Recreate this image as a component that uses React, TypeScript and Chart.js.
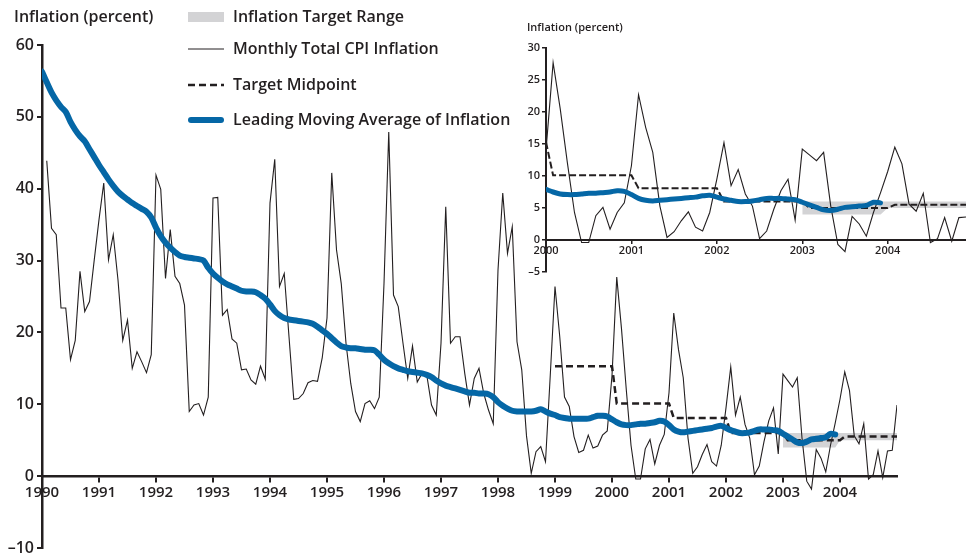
import React, { useEffect, useRef } from 'react';
import { Chart, registerables } from 'chart.js';

Chart.register(...registerables);

// ---------------- data ----------------
// x unit: months since January 1990 (0 = Jan 1990)
const yearLabels = ['1990', '1991', '1992', '1993', '1994', '1995', '1996', '1997', '1998', '1999', '2000', '2001', '2002', '2003', '2004'];
const yearTickMonths = [0, 12, 24, 36, 48, 60, 72, 84, 96, 108, 120, 132, 144, 156, 168];
const insetYearLabels = ['2000', '2001', '2002', '2003', '2004'];
const insetYearTickMonths = [120, 132, 144, 156, 168];

const legendLabels = ['Inflation Target Range', 'Monthly Total CPI Inflation', 'Target Midpoint', 'Leading Moving Average of Inflation'];
const axisTitle = 'Inflation (percent)';

// Monthly total CPI inflation, Feb 1990 (month 1) .. Jan 2005 (month 180)
const monthlyStart = 1;
const monthlyInflation = [
  43.9, 34.5, 33.6, 23.4, 23.4, 16.2, 18.9, 28.5, 22.9, 24.3, 30.1,
  35.7, 40.8, 30.1, 33.6, 27.3, 18.9, 21.7, 15.0, 17.3, 15.9, 14.4, 16.9,
  41.9, 39.9, 27.5, 34.3, 27.8, 26.8, 23.8, 9.0, 9.9, 10.1, 8.5, 11.0,
  38.7, 38.8, 22.4, 23.2, 19.1, 18.5, 14.8, 14.9, 13.4, 12.8, 15.3, 13.5,
  38.0, 44.1, 26.4, 28.2, 19.4, 10.7, 10.8, 11.5, 13.0, 13.3, 13.2, 16.5,
  22.0, 42.2, 31.5, 26.8, 18.5, 12.9, 9.0, 7.6, 10.1, 10.5, 9.4, 11.0,
  26.8, 47.9, 25.2, 23.6, 18.5, 13.6, 18.1, 13.1, 14.3, 14.1, 9.9, 8.5,
  18.5, 37.5, 18.5, 19.4, 19.4, 14.3, 9.9, 13.6, 15.0, 11.5, 9.2, 7.3,
  28.7, 39.4, 31.0, 34.7, 18.7, 14.8, 5.6, 0.4, 3.4, 4.1, 2.0, 14.0,
  26.4, 19.4, 11.0, 9.7, 5.5, 3.3, 3.6, 5.7, 3.9, 4.2, 5.7, 6.3,
  14.0, 27.7, 20.5, 12.1, 4.3, -0.4, -0.4, 3.8, 5.1, 1.7, 4.3, 5.8,
  11.6, 22.7, 17.6, 13.7, 5.3, 0.4, 1.3, 3.0, 4.4, 2.0, 1.4, 4.3,
  9.5, 15.2, 8.5, 11.0, 7.2, 5.3, 0.2, 1.4, 4.8, 7.7, 9.5, 3.1,
  14.2, 13.3, 12.4, 13.7, 5.3, -0.7, -1.8, 3.7, 2.5, 0.6, 4.3, 7.4,
  10.7, 14.5, 11.9, 5.6, 4.5, 7.3, -0.4, 0.2, 3.5, -0.2, 3.5, 3.6,
  9.9,
];

// Leading moving average, Jan 1990 (month 0) .. Dec 2003 (month 167)
const movingAverageStart = 0;
const movingAverage = [
  56.3, 54.8, 53.4, 52.3, 51.4, 50.7, 49.3, 48.2, 47.3, 46.6, 45.5, 44.4,
  43.3, 42.3, 41.3, 40.4, 39.6, 39.0, 38.5, 38.0, 37.6, 37.2, 36.8, 36.0,
  34.6, 33.4, 32.5, 31.8, 31.2, 30.7, 30.5, 30.4, 30.3, 30.2, 30.0, 29.0,
  28.2, 27.6, 27.1, 26.7, 26.4, 26.1, 25.8, 25.7, 25.7, 25.6, 25.2, 24.7,
  23.9, 23.0, 22.4, 22.0, 21.8, 21.7, 21.6, 21.5, 21.4, 21.2, 20.8, 20.3,
  19.8, 19.2, 18.6, 18.1, 17.9, 17.8, 17.8, 17.7, 17.6, 17.6, 17.5, 16.9,
  16.2, 15.7, 15.3, 15.0, 14.8, 14.6, 14.5, 14.4, 14.3, 14.1, 13.8, 13.3,
  12.9, 12.6, 12.4, 12.2, 12.0, 11.8, 11.6, 11.6, 11.5, 11.5, 11.4, 11.0,
  10.3, 9.8, 9.4, 9.1, 9.0, 9.0, 9.0, 9.0, 9.1, 9.3, 9.0, 8.7,
  8.5, 8.2, 8.1, 8.0, 8.0, 8.0, 8.0, 8.0, 8.2, 8.4, 8.4, 8.3,
  7.9, 7.5, 7.2, 7.1, 7.1, 7.2, 7.3, 7.3, 7.4, 7.5, 7.7, 7.6,
  7.1, 6.5, 6.2, 6.1, 6.2, 6.3, 6.4, 6.5, 6.6, 6.7, 6.9, 7.0,
  6.7, 6.4, 6.2, 6.0, 6.0, 6.1, 6.3, 6.5, 6.5, 6.5, 6.4, 6.3,
  5.9, 5.5, 5.1, 4.7, 4.6, 4.8, 5.1, 5.2, 5.3, 5.4, 5.9, 5.8,
];

// Target midpoint, Jan 1999 (month 108) .. Jan 2005 (month 180)
const targetMidStart = 108;
const targetMidpoint = [
  15.3, 15.3, 15.3, 15.3, 15.3, 15.3, 15.3, 15.3, 15.3, 15.3, 15.3, 15.3, 15.3,
  10.1, 10.1, 10.1, 10.1, 10.1, 10.1, 10.1, 10.1, 10.1, 10.1, 10.1, 10.1,
  8.1, 8.1, 8.1, 8.1, 8.1, 8.1, 8.1, 8.1, 8.1, 8.1, 8.1, 8.1,
  6.0, 6.0, 6.0, 6.0, 6.0, 6.0, 6.0, 6.0, 6.0, 6.0, 6.0, 6.0,
  5.0, 5.0, 5.0, 5.0, 5.0, 5.0, 5.0, 5.0, 5.0, 5.0, 5.0, 5.0,
  5.5, 5.5, 5.5, 5.5, 5.5, 5.5, 5.5, 5.5, 5.5, 5.5, 5.5, 5.5,
];

// Inflation target range, Jan 2003 (month 156) .. Jan 2005 (month 180)
const targetRangeStart = 156;
const targetRangeLow = [
  4.0, 4.0, 4.0, 4.0, 4.0, 4.0, 4.0, 4.0, 4.0, 4.0, 4.0, 4.0,
  5.0, 5.0, 5.0, 5.0, 5.0, 5.0, 5.0, 5.0, 5.0, 5.0, 5.0, 5.0, 5.0,
];
const targetRangeHigh = [
  6.0, 6.0, 6.0, 6.0, 6.0, 6.0, 6.0, 6.0, 6.0, 6.0, 6.0, 6.0,
  6.0, 6.0, 6.0, 6.0, 6.0, 6.0, 6.0, 6.0, 6.0, 6.0, 6.0, 6.0, 6.0,
];

// ---------------- styles ----------------
const FONT = "'Open Sans', 'DejaVu Sans', sans-serif";
const TEXT = '#231f20';
const BLUE = '#0567a6';
const GRAY = '#d3d3d5';

const toPoints = (values: number[], start: number, offset = 0, minX = -Infinity) =>
  values
    .map((y, i) => ({ x: start + i - offset, y }))
    .filter((p) => p.x >= minX);

function buildDatasets(offset: number, minX: number, blueWidth: number, dashWidth: number, dash: number[]) {
  return [
    {
      label: 'ma',
      data: toPoints(movingAverage, movingAverageStart, offset, minX),
      borderColor: BLUE,
      borderWidth: blueWidth,
      borderCapStyle: 'round',
      borderJoinStyle: 'round',
      pointRadius: 0,
      tension: 0.3,
      fill: false,
    },
    {
      label: 'mid',
      data: toPoints(targetMidpoint, targetMidStart, offset, minX),
      borderColor: TEXT,
      borderWidth: dashWidth,
      borderDash: dash,
      pointRadius: 0,
      fill: false,
    },
    {
      label: 'monthly',
      data: toPoints(monthlyInflation, monthlyStart, offset, minX),
      borderColor: TEXT,
      borderWidth: 1.1,
      pointRadius: 0,
      fill: false,
    },
    {
      label: 'high',
      data: toPoints(targetRangeHigh, targetRangeStart, offset, minX),
      borderWidth: 0,
      borderColor: 'rgba(0,0,0,0)',
      backgroundColor: GRAY,
      pointRadius: 0,
      fill: '+1',
    },
    {
      label: 'low',
      data: toPoints(targetRangeLow, targetRangeStart, offset, minX),
      borderWidth: 0,
      borderColor: 'rgba(0,0,0,0)',
      pointRadius: 0,
      fill: false,
    },
  ];
}

const fmt = (v: number) => (v < 0 ? '\u2013' + Math.abs(v) : String(v));

const mainTextPlugin = {
  id: 'mainText',
  afterDraw(chart: any) {
    const ctx = chart.ctx as CanvasRenderingContext2D;
    ctx.save();
    ctx.fillStyle = TEXT;
    ctx.textBaseline = 'middle';
    ctx.textAlign = 'left';
    ctx.font = `600 16px ${FONT}`;
    ctx.fillText(axisTitle, 14, 17);

    const rows = [17, 49, 85, 120];
    const x0 = 188;
    const x1 = 224;
    ctx.fillStyle = GRAY;
    ctx.fillRect(x0, rows[0] - 5, x1 - x0, 10);
    ctx.strokeStyle = TEXT;
    ctx.lineWidth = 1;
    ctx.beginPath();
    ctx.moveTo(x0, rows[1]);
    ctx.lineTo(x1, rows[1]);
    ctx.stroke();
    ctx.lineWidth = 2.5;
    ctx.setLineDash([7, 4]);
    ctx.beginPath();
    ctx.moveTo(x0, rows[2]);
    ctx.lineTo(x1, rows[2]);
    ctx.stroke();
    ctx.setLineDash([]);
    ctx.strokeStyle = BLUE;
    ctx.lineWidth = 6;
    ctx.lineCap = 'round';
    ctx.beginPath();
    ctx.moveTo(x0 + 3, rows[3]);
    ctx.lineTo(x1 - 3, rows[3]);
    ctx.stroke();

    ctx.fillStyle = TEXT;
    ctx.font = `600 16px ${FONT}`;
    legendLabels.forEach((t, i) => ctx.fillText(t, 233, rows[i]));
    ctx.restore();
  },
};

const insetTextPlugin = {
  id: 'insetText',
  afterDraw(chart: any) {
    const ctx = chart.ctx as CanvasRenderingContext2D;
    ctx.save();
    ctx.fillStyle = TEXT;
    ctx.textBaseline = 'middle';
    ctx.textAlign = 'left';
    ctx.font = `600 11px ${FONT}`;
    ctx.fillText(axisTitle, 7, 13);
    ctx.restore();
  },
};

const fixYFit = (width: number) => (s: any) => {
  s.width = width;
  s.paddingTop = 0;
  s.paddingBottom = 0;
};

export default function App() {
  const mainRef = useRef<HTMLCanvasElement>(null);
  const insetRef = useRef<HTMLCanvasElement>(null);

  useEffect(() => {
    Chart.defaults.font.family = FONT;
    Chart.defaults.color = TEXT;

    const main = new Chart(mainRef.current as HTMLCanvasElement, {
      type: 'line',
      data: { datasets: buildDatasets(0, -Infinity, 6, 2.5, [7, 4]) as any },
      options: {
        animation: false,
        responsive: false,
        maintainAspectRatio: false,
        events: [],
        layout: { padding: { left: 0, top: 45, right: 69, bottom: 9 } },
        plugins: { legend: { display: false }, tooltip: { enabled: false }, title: { display: false } },
        scales: {
          x: {
            type: 'linear',
            min: 0,
            max: 180,
            position: { y: 0 } as any,
            afterBuildTicks: (s: any) => {
              s.ticks = yearTickMonths.map((v) => ({ value: v }));
            },
            ticks: {
              autoSkip: false,
              maxRotation: 0,
              padding: 3,
              color: TEXT,
              font: { size: 15, weight: '600' as any },
              callback: (v: any) => yearLabels[yearTickMonths.indexOf(Number(v))] ?? '',
            },
            grid: { drawOnChartArea: false, drawTicks: true, tickLength: 5, color: TEXT, lineWidth: 2 },
            border: { display: true, color: TEXT, width: 2.5 },
          },
          y: {
            type: 'linear',
            min: -10,
            max: 60,
            afterFit: fixYFit(42),
            ticks: {
              stepSize: 10,
              padding: 3,
              color: TEXT,
              font: { size: 16, weight: '600' as any },
              callback: (v: any) => fmt(Number(v)),
            },
            grid: { drawOnChartArea: false, drawTicks: true, tickLength: 5, color: TEXT, lineWidth: 2 },
            border: { display: true, color: TEXT, width: 2.5 },
          },
        },
      },
      plugins: [mainTextPlugin],
    });

    const inset = new Chart(insetRef.current as HTMLCanvasElement, {
      type: 'line',
      data: { datasets: buildDatasets(120, 0, 5, 2, [7, 3]) as any },
      options: {
        animation: false,
        responsive: false,
        maintainAspectRatio: false,
        events: [],
        layout: { padding: { left: 0, top: 33, right: 0, bottom: 8 } },
        plugins: { legend: { display: false }, tooltip: { enabled: false }, title: { display: false } },
        scales: {
          x: {
            type: 'linear',
            min: 0,
            max: 59,
            position: { y: 0 } as any,
            afterBuildTicks: (s: any) => {
              s.ticks = insetYearTickMonths.map((v) => ({ value: v - 120 }));
            },
            ticks: {
              autoSkip: false,
              maxRotation: 0,
              padding: 1,
              color: TEXT,
              font: { size: 11, weight: '600' as any },
              callback: (v: any) => insetYearLabels[insetYearTickMonths.indexOf(Number(v) + 120)] ?? '',
            },
            grid: { drawOnChartArea: false, drawTicks: true, tickLength: 3, color: TEXT, lineWidth: 1.5 },
            border: { display: true, color: TEXT, width: 2 },
          },
          y: {
            type: 'linear',
            min: -5,
            max: 30,
            afterFit: fixYFit(26),
            ticks: {
              stepSize: 5,
              padding: 2,
              color: TEXT,
              font: { size: 11, weight: '600' as any },
              callback: (v: any) => fmt(Number(v)),
            },
            grid: { drawOnChartArea: false, drawTicks: true, tickLength: 4, color: TEXT, lineWidth: 1.5 },
            border: { display: true, color: TEXT, width: 2 },
          },
        },
      },
      plugins: [insetTextPlugin],
    });

    return () => {
      main.destroy();
      inset.destroy();
    };
  }, []);

  return (
    <div style={{ position: 'absolute', left: 0, top: 0, width: 966, height: 557, overflow: 'hidden', background: '#ffffff' }}>
      <canvas ref={mainRef} width={966} height={557} style={{ position: 'absolute', left: 0, top: 0, width: 966, height: 557 }} />
      <canvas ref={insetRef} width={446} height={265} style={{ position: 'absolute', left: 520, top: 15, width: 446, height: 265 }} />
    </div>
  );
}
